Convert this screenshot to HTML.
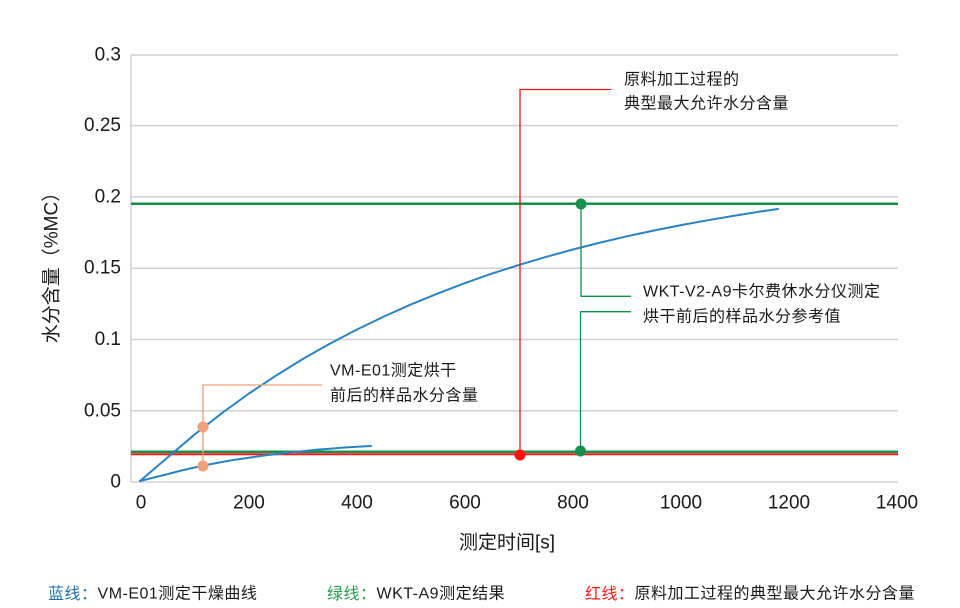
<!DOCTYPE html>
<html>
<head>
<meta charset="utf-8">
<style>
  html,body{margin:0;padding:0;background:#fff;}
  svg{display:block;}
  text{font-family:"Liberation Sans","Noto Sans CJK SC",sans-serif;fill:#1a1a1a;}
</style>
</head>
<body>
<svg width="960" height="608" viewBox="0 0 960 608" xmlns="http://www.w3.org/2000/svg">
  <!-- gridlines -->
  <g stroke="#d0d0d0" stroke-width="1.5" fill="none">
    <line x1="131" y1="55" x2="898" y2="55"/>
    <line x1="131" y1="125.6" x2="898" y2="125.6"/>
    <line x1="131" y1="196.9" x2="898" y2="196.9"/>
    <line x1="131" y1="268.2" x2="898" y2="268.2"/>
    <line x1="131" y1="339.5" x2="898" y2="339.5"/>
    <line x1="131" y1="410.8" x2="898" y2="410.8"/>
    <line x1="131" y1="482" x2="898" y2="482"/>
    <line x1="131" y1="55" x2="131" y2="482"/>
  </g>

  <!-- y tick labels -->
  <g font-size="19" text-anchor="end">
    <text x="121" y="55" dominant-baseline="central">0.3</text>
    <text x="121" y="125.6" dominant-baseline="central">0.25</text>
    <text x="121" y="196.9" dominant-baseline="central">0.2</text>
    <text x="121" y="268.2" dominant-baseline="central">0.15</text>
    <text x="121" y="339.5" dominant-baseline="central">0.1</text>
    <text x="121" y="410.8" dominant-baseline="central">0.05</text>
    <text x="121" y="482" dominant-baseline="central">0</text>
  </g>

  <!-- x tick labels -->
  <g font-size="19" text-anchor="middle">
    <text x="141" y="503" dominant-baseline="central">0</text>
    <text x="249" y="503" dominant-baseline="central">200</text>
    <text x="357" y="503" dominant-baseline="central">400</text>
    <text x="465" y="503" dominant-baseline="central">600</text>
    <text x="573" y="503" dominant-baseline="central">800</text>
    <text x="681" y="503" dominant-baseline="central">1000</text>
    <text x="789" y="503" dominant-baseline="central">1200</text>
    <text x="897" y="503" dominant-baseline="central">1400</text>
  </g>

  <!-- axis titles -->
  <text x="507" y="543" font-size="19" text-anchor="middle" dominant-baseline="central">测定时间[s]</text>
  <text transform="translate(52,263) rotate(-90)" font-size="19" text-anchor="middle" dominant-baseline="central">水分含量（%MC）</text>

  <!-- horizontal reference lines -->
  <line x1="131" y1="203.8" x2="898" y2="203.8" stroke="#16904c" stroke-width="2.5"/>
  <line x1="131" y1="454.2" x2="898" y2="454.2" stroke="#ff1010" stroke-width="2"/>
  <line x1="131" y1="451.8" x2="898" y2="451.8" stroke="#16904c" stroke-width="2.5"/>

  <!-- blue curves -->
  <polyline fill="none" stroke="#2b83c0" stroke-width="2" stroke-linejoin="round" stroke-linecap="round"
    points="140,481 168,457.1 195,434.2 222,413.1 249,393.5 276,375.6 303,358.9 330,343.6 357,329.5 384,316.5 411,304.4 438,293.4 465,283.1 492,273.6 519,264.9 546,256.9 573,249.5 600,242.6 627,236.3 654,230.5 681,225.1 708,220.2 735,215.6 762,211.3 778,209"/>
  <polyline fill="none" stroke="#2b83c0" stroke-width="2" stroke-linejoin="round" stroke-linecap="round"
    points="140,481 154,477.5 168,474 181,470.6 195,467.4 208,464.6 222,462 235,459.7 249,457.7 262,455.8 276,454.1 289,452.5 303,451.1 316,449.8 330,448.7 343,447.6 357,446.7 371,446"/>

  <!-- orange annotation -->
  <g stroke="#f0a07a" stroke-width="1.3" fill="none">
    <polyline points="322,385 203,385 203,466"/>
  </g>
  <circle cx="203" cy="427" r="5.5" fill="#f0a07a"/>
  <circle cx="203" cy="466" r="5.5" fill="#f0a07a"/>
  <g font-size="16" letter-spacing="0.5">
    <text x="330" y="371" dominant-baseline="central">VM-E01测定烘干</text>
    <text x="330" y="396" dominant-baseline="central">前后的样品水分含量</text>
  </g>

  <!-- red annotation -->
  <polyline points="611,89.5 520,89.5 520,455" fill="none" stroke="#ff1010" stroke-width="1.3"/>
  <circle cx="520" cy="455" r="5.5" fill="#ff1010"/>
  <g font-size="16" letter-spacing="0.5">
    <text x="624" y="80" dominant-baseline="central">原料加工过程的</text>
    <text x="624" y="104" dominant-baseline="central">典型最大允许水分含量</text>
  </g>

  <!-- green annotation -->
  <polyline points="581,204 581,296.3 631,296.3" fill="none" stroke="#16904c" stroke-width="1.3"/>
  <polyline points="631,311.7 580.5,311.7 580.5,451" fill="none" stroke="#16904c" stroke-width="1.3"/>
  <circle cx="581" cy="204" r="5.5" fill="#16904c"/>
  <circle cx="580.5" cy="451" r="5.5" fill="#16904c"/>
  <g font-size="16" letter-spacing="0.5">
    <text x="643" y="292" dominant-baseline="central">WKT-V2-A9卡尔费休水分仪测定</text>
    <text x="643" y="317" dominant-baseline="central">烘干前后的样品水分参考值</text>
  </g>

  <!-- legend -->
  <g font-size="16" letter-spacing="0.5">
    <text x="48" y="594" dominant-baseline="central"><tspan style="fill:#1f6fb2">蓝线：</tspan>VM-E01测定干燥曲线</text>
    <text x="327" y="594" dominant-baseline="central"><tspan style="fill:#2a9d4f">绿线：</tspan>WKT-A9测定结果</text>
    <text x="585" y="594" dominant-baseline="central"><tspan style="fill:#ff1a1a">红线：</tspan>原料加工过程的典型最大允许水分含量</text>
  </g>
</svg>
</body>
</html>
